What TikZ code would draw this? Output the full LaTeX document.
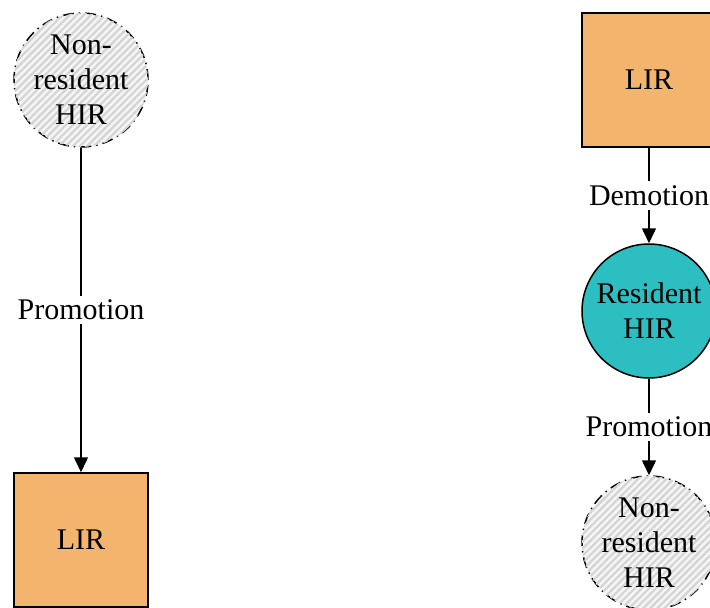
\documentclass[tikz,border=0pt]{standalone}
\usepackage{fontspec}
\setmainfont{Liberation Serif}
\usetikzlibrary{arrows.meta,patterns.meta}
\definecolor{lirorange}{HTML}{F3B56E}
\definecolor{resteal}{HTML}{2CBEC0}
\definecolor{hatchgray}{HTML}{D4D4D4}
\tikzset{
  txt/.style={font=\fontsize{30}{35}\selectfont, align=center},
  lirbox/.style={txt, draw, line width=1.5pt, fill=lirorange, minimum size=134pt, inner sep=0pt},
  rescircle/.style={txt, circle, draw, line width=1.5pt, fill=resteal, minimum size=134pt, inner sep=0pt},
  nonres/.style={txt, circle, draw, line width=1.5pt, dash pattern=on 11pt off 5pt on 1.5pt off 5pt,
    fill=white!96!black, postaction={pattern={Lines[angle=45,distance=5pt,line width=2.2pt]}, pattern color=hatchgray}, minimum size=134pt, inner sep=0pt},
  conn/.style={line width=1.5pt, -{Triangle[length=15pt,width=14pt]}},
  elabel/.style={txt, fill=white, inner sep=4pt}
}
\begin{document}
\begin{tikzpicture}[x=1pt,y=-1pt]
\useasboundingbox (0,0) rectangle (710,608);
\node[nonres] (nrl) at (81,80) {Non-\\resident\\HIR};
\node[lirbox] (lirl) at (81,540) {LIR};
\node[lirbox] (lirr) at (649,80) {LIR};
\node[rescircle] (res) at (649,311) {Resident\\HIR};
\node[nonres] (nrr) at (649,543) {Non-\\resident\\HIR};
\draw[conn] (nrl) -- node[elabel] (lab1) {Promotion} (lirl);
\draw[conn] (lirr) -- node[elabel] (lab2) {Demotion} (res);
\draw[conn] (res) -- node[elabel] (lab3) {Promotion} (nrr);
\end{tikzpicture}
\end{document}
